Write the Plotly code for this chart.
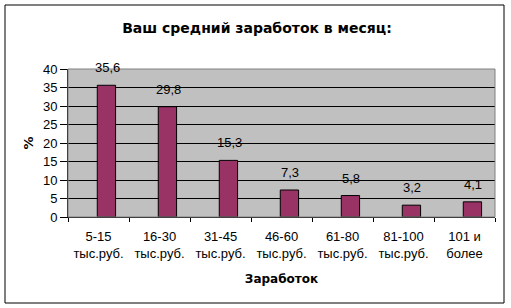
import plotly.graph_objects as go

categories = ["5-15<br>тыс.руб.", "16-30<br>тыс.руб.", "31-45<br>тыс.руб.", "46-60<br>тыс.руб.",
              "61-80<br>тыс.руб.", "81-100<br>тыс.руб.", "101 и<br>более"]
values = [35.6, 29.8, 15.3, 7.3, 5.8, 3.2, 4.1]
labels = [str(v).replace(".", ",") for v in values]

W, H = 511, 308
L, R, T, B = 68, 495, 69, 217
FONT = "Liberation Sans"

fig = go.Figure(go.Bar(
    x=categories, y=values,
    marker=dict(color="#993366", line=dict(color="black", width=1)),
    width=0.3, offset=-0.02, cliponaxis=False,
))

for c, v, t in zip(categories, values, labels):
    fig.add_annotation(x=c, y=v, text=t, showarrow=False, xanchor="center", yanchor="bottom",
                       xshift=8.5, yshift=8, font=dict(family=FONT, size=13, color="black"))

def px_x(p):
    return (p - L) / (R - L)

def px_y(p):
    return (B - p) / (B - T)

fig.update_layout(
    width=W, height=H,
    margin=dict(l=L, r=W - R, t=T, b=H - B),
    paper_bgcolor="white", plot_bgcolor="#C0C0C0",
    font=dict(family=FONT, size=13, color="black"),
    showlegend=False,
    title=dict(text="<b>Ваш средний заработок в месяц:</b>", x=257 / W, xanchor="center",
               y=1 - 28 / H, yanchor="middle", yref="container",
               font=dict(family="DejaVu Sans", size=14, color="black")),
    xaxis=dict(type="category", tickson="boundaries", ticks="outside", ticklen=4,
               tickcolor="black", showline=True, linecolor="black", showgrid=False,
               tickfont=dict(family=FONT, size=13), ticklabelstandoff=7,
               title=dict(text="<b>Заработок</b>", standoff=15,
                          font=dict(size=12, family="DejaVu Sans"))),
    yaxis=dict(range=[0, 40], dtick=5, ticks="outside", ticklen=7, tickcolor="black",
               showline=True, linecolor="black", gridcolor="black", gridwidth=1,
               zeroline=False, tickfont=dict(family=FONT, size=13),
               title=dict(text="<b>%</b>", standoff=6, font=dict(size=13, family="DejaVu Sans"))),
    shapes=[
        dict(type="rect", xref="paper", yref="paper", x0=0, x1=1, y0=0, y1=1,
             line=dict(color="#808080", width=1), layer="above"),
        dict(type="rect", xref="paper", yref="paper", x0=px_x(5), x1=px_x(504),
             y0=px_y(303), y1=px_y(5), line=dict(color="black", width=1)),
    ],
)

fig.write_html("out.html")
